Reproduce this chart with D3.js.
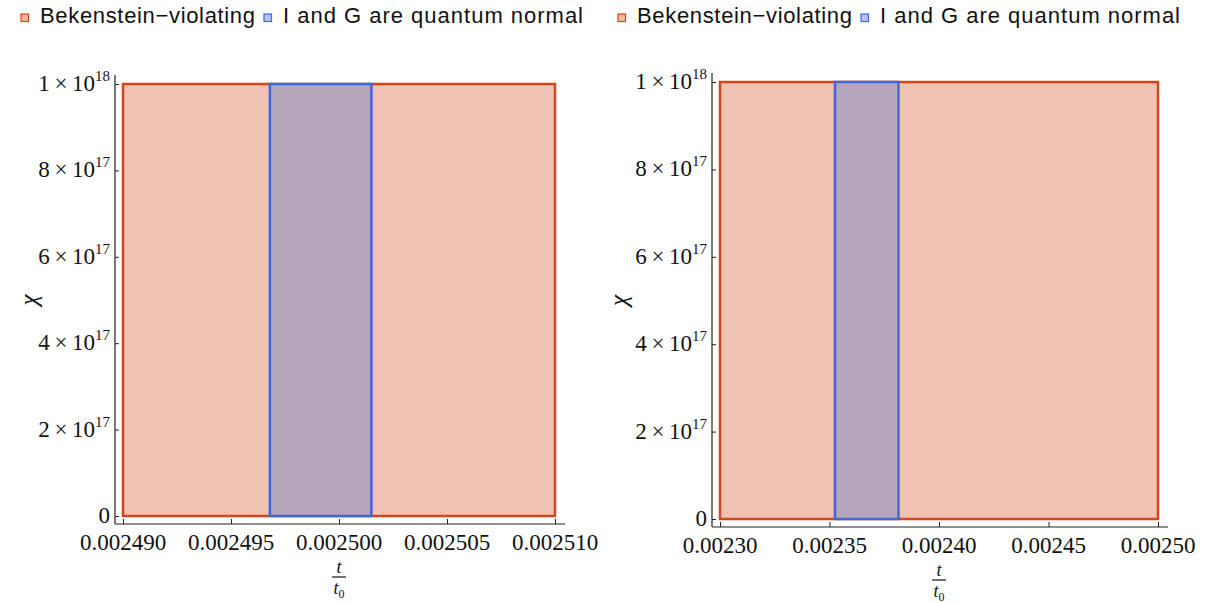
<!DOCTYPE html>
<html>
<head>
<meta charset="utf-8">
<script src="https://cdn.jsdelivr.net/npm/d3@7/dist/d3.min.js"></script>
<style>
  html, body { margin: 0; padding: 0; background: #fff; }
  svg { display: block; }
</style>
</head>
<body>
<svg id="chart" width="1207" height="603"></svg>
<script>
// ---- data ----
const legendLabels = ["Bekenstein\u2212violating", "I and G are quantum normal"];
const yTickValues = [0, 2e17, 4e17, 6e17, 8e17, 1e18];
const yTickMantissa = ["0", "2", "4", "6", "8", "1"];
const yTickExponent = ["", "17", "17", "17", "17", "18"];

const leftXDomain = [0.002490, 0.002510];
const leftXTicks = [0.002490, 0.002495, 0.002500, 0.002505, 0.002510];
const leftXTickLabels = ["0.002490", "0.002495", "0.002500", "0.002505", "0.002510"];
const leftBekenstein = [0.002490, 0.002510];
const leftNormal = [0.0024968, 0.0025015];

const rightXDomain = [0.00230, 0.00250];
const rightXTicks = [0.00230, 0.00235, 0.00240, 0.00245, 0.00250];
const rightXTickLabels = ["0.00230", "0.00235", "0.00240", "0.00245", "0.00250"];
const rightBekenstein = [0.00230, 0.00250];
const rightNormal = [0.0023525, 0.0023815];

const yRange = [0, 1e18];

// ---- styles ----
const redFill = "#f0c2b4", redStroke = "#d5441a";
const blueFill = "#b5a6bb", blueStroke = "#3f68d8";
const legRedFill = "#f0b8a6", legBlueFill = "#b4c3f0";

const svg = d3.select("#chart");

function fitText(sel, target) {
  const w = sel.node().getComputedTextLength();
  sel.attr("textLength", target).attr("lengthAdjust", "spacing");
  return target;
}

function panel(cfg) {
  const g = svg.append("g");
  const x = d3.scaleLinear().domain(cfg.xDomain).range([cfg.x0, cfg.x1]);
  const y = d3.scaleLinear().domain(yRange).range([cfg.y0, cfg.y1]);

  // legend
  const sans = "Liberation Sans, Arial, sans-serif";
  const lg = g.append("g").attr("transform", `translate(${cfg.legX},0)`);
  lg.append("rect").attr("x", 0).attr("y", 14).attr("width", 7.5).attr("height", 7.5)
    .attr("fill", legRedFill).attr("stroke", redStroke).attr("stroke-width", 1.2);
  const t1 = lg.append("text").attr("x", 19).attr("y", 23)
    .attr("font-family", sans).attr("font-size", 22)
    .attr("fill", "#111").text(legendLabels[0]);
  const w1 = fitText(t1, 215);
  const bx = 19 + w1 + 9;
  lg.append("rect").attr("x", bx).attr("y", 14).attr("width", 7.5).attr("height", 7.5)
    .attr("fill", legBlueFill).attr("stroke", blueStroke).attr("stroke-width", 1.2);
  const t2 = lg.append("text").attr("x", bx + 19).attr("y", 23)
    .attr("font-family", sans).attr("font-size", 22)
    .attr("fill", "#111").text(legendLabels[1]);
  fitText(t2, 300);

  // regions
  g.append("rect")
    .attr("x", x(cfg.bek[0])).attr("y", y(yRange[1]))
    .attr("width", x(cfg.bek[1]) - x(cfg.bek[0]))
    .attr("height", y(yRange[0]) - y(yRange[1]))
    .attr("fill", redFill).attr("stroke", redStroke).attr("stroke-width", 2.5);
  g.append("rect")
    .attr("x", x(cfg.normal[0])).attr("y", y(yRange[1]))
    .attr("width", x(cfg.normal[1]) - x(cfg.normal[0]))
    .attr("height", y(yRange[0]) - y(yRange[1]))
    .attr("fill", blueFill).attr("stroke", blueStroke).attr("stroke-width", 2.5);

  const axisColor = "#222";
  const serif = "Liberation Serif, Times New Roman, serif";
  // y axis
  const yAxisX = cfg.x0 - 8;
  g.append("line").attr("x1", yAxisX).attr("x2", yAxisX)
    .attr("y1", cfg.y1 - 9).attr("y2", cfg.y0 + 8)
    .attr("stroke", axisColor).attr("stroke-width", 1.2);
  const yAx = g.append("g").attr("transform", `translate(${yAxisX},0)`)
    .call(d3.axisRight(y).tickValues(yTickValues).tickSize(4).tickFormat(""));
  yAx.select(".domain").remove();
  yAx.selectAll(".tick line").attr("stroke", axisColor).attr("stroke-width", 1);
  yTickValues.forEach((v, i) => {
    const t = g.append("text")
      .attr("x", yAxisX - 5).attr("y", y(v) + 7)
      .attr("text-anchor", "end")
      .attr("font-family", serif)
      .attr("font-size", 23).attr("fill", "#111");
    if (yTickExponent[i] === "") {
      t.text(yTickMantissa[i]);
    } else {
      t.append("tspan").text(yTickMantissa[i] + "\u2009\u00d7\u200910");
      t.append("tspan").attr("font-size", 15).attr("dy", -10).text(yTickExponent[i]);
    }
  });

  // x axis
  const xAxisY = cfg.y0 + 8;
  g.append("line").attr("x1", yAxisX).attr("x2", cfg.x1 + 10)
    .attr("y1", xAxisY).attr("y2", xAxisY)
    .attr("stroke", axisColor).attr("stroke-width", 1.2);
  const xAx = g.append("g").attr("transform", `translate(0,${xAxisY})`)
    .call(d3.axisTop(x).tickValues(cfg.xTicks).tickSize(5).tickFormat(""));
  xAx.select(".domain").remove();
  xAx.selectAll(".tick line").attr("stroke", axisColor).attr("stroke-width", 1);
  cfg.xTicks.forEach((v, i) => {
    g.append("text")
      .attr("x", x(v)).attr("y", xAxisY + 26)
      .attr("text-anchor", "middle")
      .attr("font-family", serif)
      .attr("font-size", 23).attr("fill", "#111")
      .text(cfg.xLabels[i]);
  });

  // x axis label t / t0
  const cx = (cfg.x0 + cfg.x1) / 2;
  g.append("text").attr("x", cx).attr("y", xAxisY + 49).attr("text-anchor", "middle")
    .attr("font-family", serif).attr("font-style", "italic").attr("font-size", 18)
    .attr("fill", "#111").text("t");
  g.append("line").attr("x1", cx - 7).attr("x2", cx + 7)
    .attr("y1", xAxisY + 53).attr("y2", xAxisY + 53)
    .attr("stroke", "#111").attr("stroke-width", 1.2);
  const t0 = g.append("text").attr("x", cx).attr("y", xAxisY + 70).attr("text-anchor", "middle")
    .attr("font-family", serif).attr("font-size", 18).attr("fill", "#111");
  t0.append("tspan").attr("font-style", "italic").text("t");
  t0.append("tspan").attr("font-size", 12).attr("dy", 4).text("0");

  // y axis label chi
  const cy = (cfg.y0 + cfg.y1) / 2;
  g.append("text")
    .attr("transform", `translate(${cfg.chiX},${cy}) rotate(-90)`)
    .attr("text-anchor", "middle")
    .attr("font-family", serif).attr("font-style", "italic").attr("font-size", 25)
    .attr("fill", "#111").text("\u03c7");
}

panel({
  xDomain: leftXDomain, xTicks: leftXTicks, xLabels: leftXTickLabels,
  bek: leftBekenstein, normal: leftNormal,
  x0: 123, x1: 555, y0: 516, y1: 84, legX: 21, chiX: 37
});
panel({
  xDomain: rightXDomain, xTicks: rightXTicks, xLabels: rightXTickLabels,
  bek: rightBekenstein, normal: rightNormal,
  x0: 720, x1: 1158, y0: 519, y1: 82, legX: 618, chiX: 627
});
</script>
</body>
</html>
